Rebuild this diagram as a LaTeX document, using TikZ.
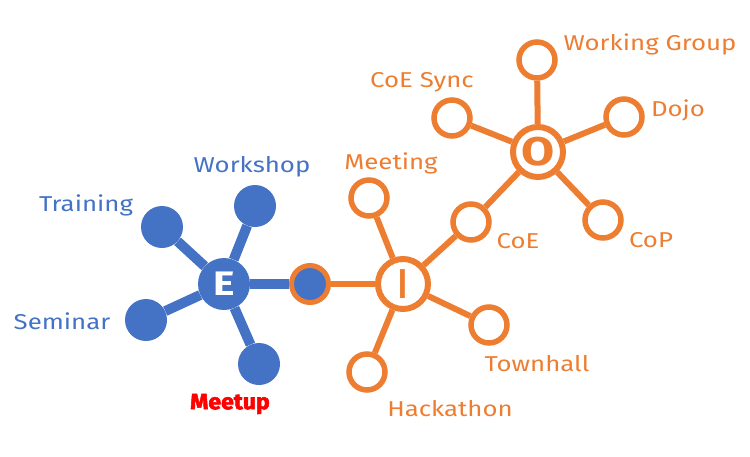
\documentclass[tikz,border=0pt]{standalone}
\usepackage{fontspec}
\setmainfont{Fira Sans}[FakeStretch=1.2]
\newfontfamily\meetupfont{Fira Sans}[FakeBold=2.5,FakeStretch=1.05]
\usepackage{tikz}
\usetikzlibrary{positioning}
\definecolor{hubblue}{HTML}{4472C4}
\definecolor{huborange}{HTML}{ED7D31}

\begin{document}
\begin{tikzpicture}[x=1pt,y=-1pt,
  every node/.style={font=\fontsize{21.5}{24}\selectfont},
  bleaf/.style={circle,fill=hubblue,minimum size=42pt,inner sep=0pt},
  oleaf/.style={circle,draw=huborange,line width=5.5pt,fill=white,minimum size=36pt,inner sep=0pt},
  ohub/.style={circle,draw=huborange,line width=6pt,fill=white,minimum size=50pt,inner sep=0pt,text=huborange,font=\fontsize{42}{42}\selectfont},
  blink/.style={hubblue,line width=10pt},
  olink/.style={huborange,line width=6pt},
  blabel/.style={text=hubblue,yshift=-2pt},
  olabel/.style={text=huborange,yshift=-2pt}]
  \useasboundingbox (0,0) rectangle (750,456);
  % E cluster
  \node[circle,fill=hubblue,minimum size=52pt,inner sep=0pt,text=white,font=\fontsize{34}{34}\bfseries\selectfont] (E) at (224,284) {E};
  \node[bleaf] (training) at (162,227) {};
  \node[bleaf] (workshop) at (255,206) {};
  \node[bleaf] (seminar) at (146,320) {};
  \node[bleaf] (meetup) at (259,364) {};
  % link between E and I
  \node[circle,fill=hubblue,draw=huborange,line width=5pt,minimum size=37pt,inner sep=0pt] (link) at (310,284) {};
  % I cluster
  \node[ohub] (I) at (403,284) {I};
  \node[oleaf] (meeting) at (369,198) {};
  \node[oleaf] (coe) at (471,222) {};
  \node[oleaf] (townhall) at (489,325) {};
  \node[oleaf] (hackathon) at (367,372) {};
  % O cluster
  \node[ohub,font=\fontsize{40}{40}\bfseries\selectfont] (O) at (538,152) {O};
  \node[oleaf] (workgroup) at (537,60) {};
  \node[oleaf] (coesync) at (452,118) {};
  \node[oleaf] (dojo) at (624,117) {};
  \node[oleaf] (cop) at (603,220) {};
  % connectors
  \foreach \leaf in {training,workshop,seminar,meetup,link} \draw[blink] (E) -- (\leaf);
  \draw[olink] (link) -- (I);
  \foreach \leaf in {meeting,coe,townhall,hackathon} \draw[olink] (I) -- (\leaf);
  \draw[olink] (coe) -- (O);
  \foreach \leaf in {workgroup,coesync,dojo,cop} \draw[olink] (O) -- (\leaf);
  % labels
  \node[blabel] (lworkshop) at (252,165) {Workshop};
  \node[blabel] (ltraining) at (86,203) {Training};
  \node[blabel] (lseminar) at (62,319) {Seminar};
  \node[text=red,font=\fontsize{22}{22}\meetupfont\bfseries] (lmeetup) at (230,404) {Meetup};
  \node[olabel] (lmeeting) at (391,161) {Meeting};
  \node[olabel] (lcoe) at (518,239) {CoE};
  \node[olabel] (ltownhall) at (537,362) {Townhall};
  \node[olabel] (lhackathon) at (450,407) {Hackathon};
  \node[olabel] (lworkgroup) at (650,42) {Working Group};
  \node[olabel] (lcoesync) at (422,80) {CoE Sync};
  \node[olabel] (ldojo) at (678,108) {Dojo};
  \node[olabel] (lcop) at (651,238) {CoP};
\end{tikzpicture}
\end{document}
